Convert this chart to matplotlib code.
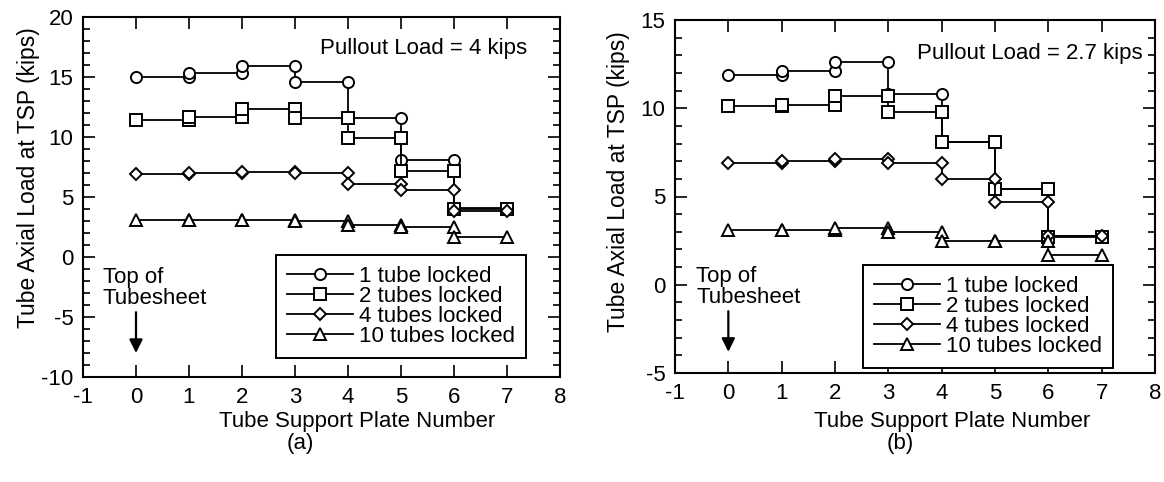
import numpy as np
import matplotlib
matplotlib.use("Agg")
import matplotlib.pyplot as plt
from matplotlib.ticker import MultipleLocator

plt.rcParams['font.family'] = ['Liberation Sans', 'DejaVu Sans']
plt.rcParams['font.size'] = 16
plt.rcParams['axes.unicode_minus'] = False

# TSP numbers along the tube
tsp = np.arange(0, 8)

# load carried in each span between TSPs (span k goes from TSP k to k+1), kips
# (a) pullout load = 4 kips
a_1tube = [15.0, 15.3, 15.9, 14.6, 11.6, 8.1, 4.1]
a_2tube = [11.4, 11.7, 12.3, 11.6, 9.9, 7.2, 4.0]
a_4tube = [6.9, 7.0, 7.1, 7.0, 6.1, 5.6, 3.8]
a_10tube = [3.1, 3.1, 3.1, 3.0, 2.7, 2.5, 1.7]

# (b) pullout load = 2.7 kips
b_1tube = [11.9, 12.1, 12.6, 10.8, 8.1, 5.45, 2.75]
b_2tube = [10.1, 10.2, 10.7, 9.8, 8.1, 5.45, 2.7]
b_4tube = [6.9, 7.0, 7.1, 6.9, 6.0, 4.7, 2.75]
b_10tube = [3.1, 3.1, 3.2, 3.0, 2.5, 2.5, 1.7]

labels = ["1 tube locked", "2 tubes locked", "4 tubes locked", "10 tubes locked"]
markers = ["o", "s", "D", "^"]
msizes = [8, 8, 6.5, 8]


def staircase(spans):
    # each TSP gets the load entering it and the load leaving it
    xs, ys = [], []
    for k, v in enumerate(spans):
        xs += [tsp[k], tsp[k + 1]]
        ys += [v, v]
    return xs, ys


def panel(ax, series, ylim, note, note_xy, top_xy, arrow_y, leg_anchor):
    for spans, lab, m, ms in zip(series, labels, markers, msizes):
        xs, ys = staircase(spans)
        ax.plot(xs, ys, color='black', lw=1.3, marker=m, ms=ms,
                mfc='white', mec='black', mew=1.4, label=lab)

    ax.set_xlim(-1, 8)
    ax.set_ylim(*ylim)
    ax.xaxis.set_major_locator(MultipleLocator(1))
    ax.yaxis.set_major_locator(MultipleLocator(5))
    ax.yaxis.set_minor_locator(MultipleLocator(1))
    ax.tick_params(which='both', direction='in', top=True, right=True,
                   width=1.2, labelsize=16)
    ax.tick_params(which='major', length=8.5, pad=7)
    ax.tick_params(which='minor', length=5)
    ax.tick_params(axis='x', which='minor', bottom=False, top=False)
    for s in ax.spines.values():
        s.set_linewidth(1.5)

    ax.text(note_xy[0], note_xy[1], note, ha='right', va='center', fontsize=16)
    ax.text(top_xy[0], top_xy[1], "Top of\nTubesheet", ha='left', va='top',
            fontsize=16, linespacing=1.0)
    ax.annotate("", xy=(0, arrow_y[1]), xytext=(0, arrow_y[0]),
                arrowprops=dict(arrowstyle='-|>', color='black', lw=1.6,
                                mutation_scale=20, shrinkA=0, shrinkB=0))

    leg = ax.legend(loc='upper left', bbox_to_anchor=leg_anchor, borderaxespad=0,
                    fontsize=16, labelspacing=-0.05, handlelength=3.0,
                    handletextpad=0.25, borderpad=0.5, fancybox=False,
                    framealpha=1, edgecolor='black')
    leg.get_frame().set_linewidth(1.4)

    ax.set_xlabel("Tube Support Plate Number", fontsize=16)
    ax.set_ylabel("Tube Axial Load at TSP (kips)", fontsize=16.5)


fig = plt.figure(figsize=(11.64, 4.82), dpi=100)
ax1 = fig.add_axes([83 / 1164, 1 - 377 / 482, 477 / 1164, 360 / 482])
ax2 = fig.add_axes([675 / 1164, 1 - 373 / 482, 480 / 1164, 353 / 482])

panel(ax1, [a_1tube, a_2tube, a_4tube, a_10tube], (-10, 20),
      "Pullout Load = 4 kips", (7.38, 17.4), (-0.63, -0.8), (-4.6, -8.0),
      (0.404, 0.339))
panel(ax2, [b_1tube, b_2tube, b_4tube, b_10tube], (-5, 15),
      "Pullout Load = 2.7 kips", (7.76, 13.1), (-0.6, 1.05), (-1.5, -3.8),
      (0.391, 0.306))

ax1.xaxis.set_label_coords(0.575, -0.095)
ax2.xaxis.set_label_coords(0.577, -0.108)
ax1.yaxis.set_label_coords(-0.09, 0.553)
ax2.yaxis.set_label_coords(-0.094, 0.541)

fig.text(300 / 1164, 1 - 443 / 482, "(a)", ha='center', va='center', fontsize=16)
fig.text(900 / 1164, 1 - 443 / 482, "(b)", ha='center', va='center', fontsize=16)

fig.savefig("out.png", dpi=100)
